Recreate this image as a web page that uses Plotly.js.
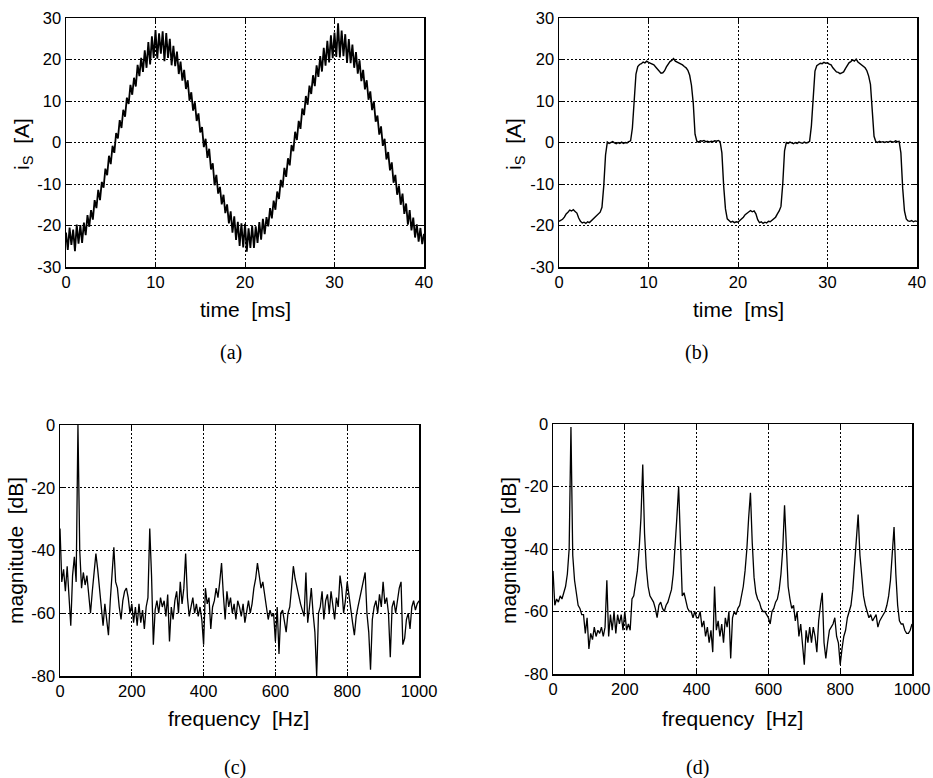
<!DOCTYPE html>
<html>
<head>
<meta charset="utf-8">
<script src="https://cdn.plot.ly/plotly-3.0.1.min.js"></script>
<style>html,body{margin:0;padding:0;background:#fff}</style>
</head>
<body>
<div id="chart" style="width:933px;height:778px"></div>
<script>
// Stator current, sinusoidal PWM (a): samples every 0.2 ms from 0 to 40 ms
const currentA = [
 -21.7,-25.9,-20.5,-24.7,-21.0,-26.2,-19.8,-24.4,-19.9,-24.2,
 -19.3,-22.3,-17.5,-20.3,-16.3,-18.6,-13.9,-15.8,-11.4,-13.9,
 -9.5,-10.9,-6.3,-7.9,-3.2,-5.2,-0.8,-2.5,2.3,1.0,
 5.4,3.5,7.9,6.2,10.8,9.3,13.9,11.5,15.6,13.5,
 18.7,16.0,20.4,17.0,22.2,18.0,24.2,18.8,25.6,20.4,
 27.1,20.2,26.3,21.4,26.8,19.6,26.4,20.4,25.0,18.6,
 23.3,18.4,21.9,16.5,19.5,14.9,17.5,12.9,15.0,10.1,
 12.1,7.7,9.7,5.2,7.0,2.4,3.7,-1.1,0.9,-3.7,
 -1.5,-6.5,-5.0,-10.3,-7.8,-12.3,-10.7,-14.9,-12.6,-17.0,
 -14.9,-19.5,-16.6,-21.7,-17.8,-23.5,-19.1,-24.9,-19.5,-25.3,
 -19.6,-26.3,-20.7,-25.4,-20.0,-25.4,-20.2,-24.2,-19.2,-23.4,
 -18.4,-22.1,-18.0,-20.2,-15.8,-18.3,-14.0,-16.2,-11.8,-13.6,
 -9.0,-10.8,-6.1,-8.3,-3.8,-5.5,-0.6,-2.1,2.6,0.6,
 5.2,3.3,8.2,6.6,11.2,9.1,13.7,11.7,16.2,13.6,
 18.6,15.8,20.8,17.1,22.8,18.5,24.5,19.3,25.8,20.3,
 26.5,20.6,28.7,20.5,27.0,20.8,26.1,19.2,24.9,19.1,
 23.6,18.0,21.8,16.6,19.8,14.8,17.5,12.8,15.0,10.3,
 12.3,7.8,9.9,5.0,6.5,1.9,3.9,-0.8,0.9,-4.1,
 -2.3,-6.7,-4.8,-9.7,-7.8,-12.6,-10.4,-15.0,-12.3,-17.2,
 -14.7,-19.8,-16.3,-21.2,-18.1,-22.9,-19.7,-23.9,-20.6,-24.5,
 -22.0
];

// Stator current, quasi-square modulation (b): samples every 0.2 ms
const currentB = [
 -19.0,-18.8,-18.5,-18.0,-17.2,-16.8,-16.3,-16.5,-16.2,-16.6,
 -17.0,-18.2,-19.0,-19.4,-19.2,-19.5,-19.1,-19.3,-18.9,-18.6,
 -18.2,-17.8,-17.3,-16.8,-15.6,-10.5,-3.0,0.1,-0.2,0.0,
 0.2,-0.1,-0.3,0.0,-0.2,0.1,-0.2,0.0,-0.1,0.2,
 0.4,3.5,10.0,16.5,18.3,18.8,19.0,19.4,19.2,19.6,
 19.3,19.1,19.0,18.7,18.2,17.6,17.0,16.7,16.8,17.3,
 18.2,19.0,19.5,19.8,20.2,19.6,19.4,19.2,18.9,18.7,
 18.3,18.0,17.4,16.2,13.8,9.5,2.0,0.3,0.1,0.4,
 0.3,0.5,0.2,0.3,0.1,0.3,0.2,0.4,0.3,0.5,
 0.2,-2.5,-10.5,-16.0,-18.4,-18.9,-19.2,-19.0,-19.3,-19.1,
 -19.2,-18.8,-18.5,-18.0,-17.4,-17.0,-16.6,-16.4,-16.7,-16.5,
 -17.2,-18.6,-19.3,-19.1,-19.5,-19.2,-19.4,-19.0,-19.1,-18.7,
 -18.4,-18.0,-17.2,-16.5,-15.4,-10.0,-2.0,0.0,-0.2,0.1,
 -0.1,-0.3,0.0,-0.2,0.1,-0.1,-0.2,0.1,-0.1,0.0,
 0.3,4.0,11.5,17.2,18.5,18.9,19.1,19.0,19.3,19.1,
 19.2,18.9,18.7,18.0,17.6,17.0,16.9,16.6,16.8,17.0,
 17.8,18.6,19.2,19.5,19.9,19.6,20.1,19.4,19.0,18.7,
 18.4,18.0,17.3,16.0,14.0,8.0,1.5,0.2,0.0,0.3,
 0.1,0.2,0.0,0.2,0.1,0.3,0.2,0.1,0.4,0.2,
 0.3,-2.5,-11.0,-16.5,-18.4,-18.9,-19.0,-18.8,-19.1,-18.9,
 -19.0
];

// Current spectrum for (a), 5 Hz bins from 0 to 1000 Hz, in dB
const spectrumA = [
 -33,-50,-46,-53,-45,-55,-64,-48,-42,-50,
 0,-40,-52,-47,-51,-48,-55,-60,-53,-48,
 -41,-46,-52,-58,-64,-57,-62,-67,-56,-47,
 -39,-50,-52,-58,-62,-56,-53,-52,-55,-60,
 -57,-63,-58,-64,-57,-63,-59,-65,-58,-55,
 -33,-48,-70,-59,-56,-60,-55,-58,-56,-61,
 -54,-69,-58,-62,-56,-53,-60,-50,-57,-52,
 -41,-55,-61,-58,-55,-60,-57,-61,-58,-62,
 -70,-52,-57,-55,-65,-58,-56,-52,-55,-50,
 -44,-54,-62,-53,-58,-55,-60,-57,-62,-56,
 -58,-61,-57,-63,-59,-56,-60,-57,-52,-49,
 -44,-49,-52,-50,-55,-58,-62,-59,-61,-60,
 -69,-58,-73,-60,-59,-62,-66,-60,-58,-52,
 -45,-49,-52,-55,-57,-59,-61,-47,-63,-58,
 -52,-60,-66,-80,-60,-58,-53,-62,-56,-54,
 -60,-53,-57,-62,-55,-58,-48,-52,-60,-56,
 -50,-55,-60,-63,-67,-61,-58,-55,-52,-50,
 -47,-60,-66,-78,-62,-58,-56,-60,-54,-58,
 -50,-57,-55,-60,-74,-58,-56,-60,-55,-52,
 -50,-70,-68,-62,-60,-65,-58,-56,-59,-57,
 -56
];

// Current spectrum for (b), 5 Hz bins from 0 to 1000 Hz, in dB
const spectrumB = [
 -47,-58,-56,-57,-55,-56,-54,-52,-48,-40,
 -1,-42,-50,-55,-58,-59,-61,-61,-67,-62,
 -72,-67,-69,-65,-68,-66,-67,-65,-68,-65,
 -50,-68,-61,-66,-60,-67,-61,-64,-61,-66,
 -60,-66,-64,-66,-56,-55,-51,-47,-40,-30,
 -13,-35,-46,-52,-55,-56,-57,-59,-62,-58,
 -57,-59,-60,-58,-57,-55,-53,-48,-40,-30,
 -20,-36,-55,-54,-57,-59,-60,-60,-62,-60,
 -62,-62,-60,-65,-63,-68,-65,-70,-66,-73,
 -52,-66,-63,-68,-64,-70,-62,-65,-60,-75,
 -62,-60,-61,-59,-58,-55,-52,-47,-40,-30,
 -22,-38,-49,-54,-56,-57,-59,-60,-60,-61,
 -62,-64,-60,-59,-57,-56,-53,-48,-40,-26,
 -42,-52,-56,-59,-58,-63,-60,-68,-64,-70,
 -77,-66,-70,-65,-70,-65,-68,-73,-63,-58,
 -54,-70,-75,-70,-66,-65,-64,-62,-68,-70,
 -77,-72,-68,-66,-62,-60,-58,-53,-45,-37,
 -29,-42,-50,-55,-58,-60,-62,-61,-63,-62,
 -61,-65,-63,-62,-61,-60,-58,-55,-50,-42,
 -33,-48,-58,-63,-64,-64,-66,-67,-67,-66,
 -64
];

const timeStep = 0.2;   // ms
const freqStep = 5;     // Hz
const timeA = currentA.map((_, k) => +(k * timeStep).toFixed(1));
const timeB = currentB.map((_, k) => +(k * timeStep).toFixed(1));
const freqA = spectrumA.map((_, k) => k * freqStep);
const freqB = spectrumB.map((_, k) => k * freqStep);

// Tick values and their printed labels (plain hyphen for negatives)
const timeTicks = [0, 10, 20, 30, 40];
const timeTickText = ['0', '10', '20', '30', '40'];
const currentTicks = [-30, -20, -10, 0, 10, 20, 30];
const currentTickText = ['-30', '-20', '-10', '0', '10', '20', '30'];
const freqTicks = [0, 200, 400, 600, 800, 1000];
const freqTickText = ['0', '200', '400', '600', '800', '1000'];
const dbTicks = [-80, -60, -40, -20, 0];
const dbTickText = ['-80', '-60', '-40', '-20', '0'];

const sans = 'Liberation Sans, Arial, Helvetica, sans-serif';
const serif = 'Liberation Serif, Times New Roman, serif';

function axis(domain, range, ticks, tickText, anchor) {
  return {
    domain: domain, range: range, anchor: anchor,
    tickmode: 'array', tickvals: ticks, ticktext: tickText,
    showline: true, mirror: 'ticks', linecolor: '#000', linewidth: 1.5,
    ticks: 'inside', ticklen: 4, tickcolor: '#000', tickwidth: 1,
    showgrid: true, gridcolor: '#000', gridwidth: 1, griddash: '2px,2px',
    zeroline: false, fixedrange: true,
    tickfont: {family: sans, size: 16.5, color: '#000'}
  };
}

const line = w => ({color: '#000', width: w});
const traces = [
  {x: timeA, y: currentA, xaxis: 'x', yaxis: 'y', type: 'scatter', mode: 'lines', line: line(1.8)},
  {x: timeB, y: currentB, xaxis: 'x2', yaxis: 'y2', type: 'scatter', mode: 'lines', line: line(1.4)},
  {x: freqA, y: spectrumA, xaxis: 'x3', yaxis: 'y3', type: 'scatter', mode: 'lines', line: line(1.3)},
  {x: freqB, y: spectrumB, xaxis: 'x4', yaxis: 'y4', type: 'scatter', mode: 'lines', line: line(1.3)}
];

const W = 933, H = 778;
const px = v => v / W, py = v => 1 - v / H;

function label(text, x, y, opts) {
  return Object.assign({
    text: text, x: px(x), y: py(y), xref: 'paper', yref: 'paper',
    xanchor: 'center', yanchor: 'middle', showarrow: false,
    font: {family: sans, size: 21, color: '#000'}
  }, opts || {});
}

const nb = '\u00A0';
const capFont = {family: serif, size: 20, color: '#000'};
const annotations = [
  label('time' + nb + ' [ms]', 245, 309),
  label('time' + nb + ' [ms]', 738, 309),
  label('frequency' + nb + ' [Hz]', 239, 718),
  label('frequency' + nb + ' [Hz]', 732, 718),
  label('i<sub>S</sub>' + nb + ' [A]', 23, 144, {textangle: -90}),
  label('i<sub>S</sub>' + nb + ' [A]', 515, 144, {textangle: -90}),
  label('magnitude' + nb + ' [dB]', 15, 551, {textangle: -90}),
  label('magnitude' + nb + ' [dB]', 508, 550, {textangle: -90}),
  label('(a)', 231, 352, {font: capFont}),
  label('(b)', 696, 352, {font: capFont}),
  label('(c)', 235, 767, {font: capFont}),
  label('(d)', 697, 767, {font: capFont})
];

const layout = {
  width: W, height: H,
  margin: {l: 0, r: 0, t: 0, b: 0},
  paper_bgcolor: '#fff', plot_bgcolor: '#fff',
  showlegend: false,
  xaxis:  axis([px(66), px(424)], [0, 40], timeTicks, timeTickText, 'y'),
  yaxis:  axis([py(267), py(18)], [-30, 30], currentTicks, currentTickText, 'x'),
  xaxis2: axis([px(559), px(917)], [0, 40], timeTicks, timeTickText, 'y2'),
  yaxis2: axis([py(267), py(18)], [-30, 30], currentTicks, currentTickText, 'x2'),
  xaxis3: axis([px(60), px(419)], [0, 1000], freqTicks, freqTickText, 'y3'),
  yaxis3: axis([py(676), py(425)], [-80, 0], dbTicks, dbTickText, 'x3'),
  xaxis4: axis([px(553), px(912)], [0, 1000], freqTicks, freqTickText, 'y4'),
  yaxis4: axis([py(674), py(424)], [-80, 0], dbTicks, dbTickText, 'x4'),
  annotations: annotations
};

Plotly.newPlot('chart', traces, layout, {displayModeBar: false, staticPlot: true});
</script>
</body>
</html>
